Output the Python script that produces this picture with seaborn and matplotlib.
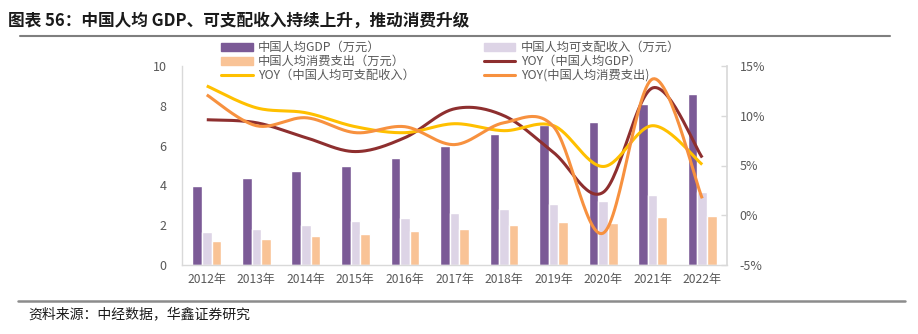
import numpy as np
import pandas as pd
import matplotlib
matplotlib.use("Agg")
import matplotlib.pyplot as plt
import seaborn as sns
from matplotlib.lines import Line2D
from matplotlib.patches import Patch

years = ["2012年", "2013年", "2014年", "2015年", "2016年", "2017年",
         "2018年", "2019年", "2020年", "2021年", "2022年"]
gdp = [3.98, 4.37, 4.71, 5.00, 5.40, 6.00, 6.58, 7.03, 7.21, 8.10, 8.57]
income = [1.65, 1.83, 2.02, 2.20, 2.38, 2.60, 2.82, 3.07, 3.22, 3.51, 3.69]
consume = [1.21, 1.32, 1.45, 1.57, 1.71, 1.83, 1.99, 2.16, 2.12, 2.41, 2.45]
yoy_gdp = [9.6, 9.3, 7.8, 6.4, 7.8, 10.7, 10.0, 6.3, 2.3, 12.8, 5.8]
yoy_income = [13.0, 10.8, 10.3, 8.9, 8.3, 9.2, 8.5, 9.0, 4.9, 9.0, 5.1]
yoy_consume = [12.1, 9.0, 9.8, 8.3, 8.9, 7.1, 9.3, 8.9, -1.8, 13.7, 1.7]

bar_names = ["中国人均GDP（万元）", "中国人均可支配收入（万元）", "中国人均消费支出（万元）"]
line_names = ["YOY（中国人均GDP）", "YOY（中国人均可支配收入）", "YOY(中国人均消费支出)"]
bar_colors = ["#7B5A96", "#DDD4E6", "#F9C396"]
line_colors = ["#8E2F2F", "#FFC000", "#F7913F"]

sns.set_theme(style="white")
plt.rcParams["font.family"] = ["Noto Sans CJK SC", "DejaVu Sans"]

df = pd.DataFrame({
    "year": years * 3,
    "value": gdp + income + consume,
    "series": sum([[n] * len(years) for n in bar_names], []),
})

fig = plt.figure(figsize=(9.18, 3.34), dpi=100)
ax = fig.add_axes([182 / 918, 1 - 265 / 334, (727 - 182) / 918, (265 - 66) / 334])

sns.barplot(data=df, x="year", y="value", hue="series", hue_order=bar_names,
            palette=bar_colors, width=0.58, ax=ax, legend=False, saturation=1)
ax.set_xlim(-0.5, len(years) - 0.5)
ax.set_ylim(0, 10)
ax.set_yticks([0, 2, 4, 6, 8, 10])
ax.set_xlabel("")
ax.set_ylabel("")
for s in ["top", "right"]:
    ax.spines[s].set_visible(False)
for s in ["left", "bottom"]:
    ax.spines[s].set_color("#D9D9D9")
    ax.spines[s].set_linewidth(1.0)
ax.tick_params(axis="x", length=0, labelsize=8.7, colors="#595959", pad=6)
ax.tick_params(axis="y", length=0, labelsize=9, colors="#595959", pad=11)


def smooth(y, n=30):
    y = np.asarray(y, float)
    x = np.arange(len(y), dtype=float)
    P = np.concatenate([[y[0]], y, [y[-1]]])
    X = np.concatenate([[x[0]], x, [x[-1]]])
    xs, ys = [], []
    for i in range(len(y) - 1):
        t = np.linspace(0, 1, n, endpoint=(i == len(y) - 2))
        p0, p1, p2, p3 = P[i], P[i + 1], P[i + 2], P[i + 3]
        q0, q1, q2, q3 = X[i], X[i + 1], X[i + 2], X[i + 3]
        c1y = p1 + (p2 - p0) / 6
        c2y = p2 - (p3 - p1) / 6
        c1x = q1 + (q2 - q0) / 6
        c2x = q2 - (q3 - q1) / 6
        b = [(1 - t) ** 3, 3 * (1 - t) ** 2 * t, 3 * (1 - t) * t ** 2, t ** 3]
        ys.append(b[0] * p1 + b[1] * c1y + b[2] * c2y + b[3] * p2)
        xs.append(b[0] * q1 + b[1] * c1x + b[2] * c2x + b[3] * q2)
    return np.concatenate(xs), np.concatenate(ys)


ax2 = ax.twinx()
for vals, col in zip([yoy_gdp, yoy_income, yoy_consume], line_colors):
    sx, sy = smooth(vals)
    ax2.plot(sx, sy, color=col, lw=2.2, solid_capstyle="butt")
ax2.set_ylim(-5, 15)
ax2.set_yticks([-5, 0, 5, 10, 15])
ax2.set_yticklabels(["-5%", "0%", "5%", "10%", "15%"])
for s in ["top", "left", "bottom"]:
    ax2.spines[s].set_visible(False)
ax2.spines["right"].set_color("#D9D9D9")
ax2.tick_params(axis="y", length=4, width=1, color="#D9D9D9", labelsize=9,
                labelcolor="#595959", pad=9, direction="in")
ax2.set_xlim(-0.5, len(years) - 0.5)

handles = [Patch(color=bar_colors[0]), Patch(color=bar_colors[2]),
           Line2D([], [], color=line_colors[1], lw=2.2),
           Patch(color=bar_colors[1]),
           Line2D([], [], color=line_colors[0], lw=2.2),
           Line2D([], [], color=line_colors[2], lw=2.2)]
labels = [bar_names[0], bar_names[2], line_names[1],
          bar_names[1], line_names[0], line_names[2]]
leg = fig.legend(handles, labels, ncol=2, loc="upper left",
                 bbox_to_anchor=(221 / 918, 1 - 41 / 334), frameon=False,
                 fontsize=8.8, handlelength=2.6, handleheight=0.65,
                 handletextpad=0.45, labelspacing=0.08, columnspacing=5.6,
                 borderaxespad=0, borderpad=0)
for t in leg.get_texts():
    t.set_color("#595959")

fig.text(8 / 918, 1 - 21 / 334, "图表 56：中国人均 GDP、可支配收入持续上升，推动消费升级",
         fontsize=12, fontweight="bold", color="#1a1a1a", va="center", ha="left")
fig.add_artist(Line2D([20 / 918, 890 / 918], [1 - 36 / 334, 1 - 36 / 334], color="#7F7F7F",
                      lw=1.5, transform=fig.transFigure))
fig.add_artist(Line2D([18 / 918, 905 / 918], [1 - 301 / 334, 1 - 301 / 334],
                      color="#8C8C8C", lw=1.8, transform=fig.transFigure))
fig.text(28 / 918, 1 - 314 / 334, "资料来源：中经数据，华鑫证券研究",
         fontsize=10, color="#1a1a1a", va="center", ha="left")

fig.savefig("out.png", dpi=100)
